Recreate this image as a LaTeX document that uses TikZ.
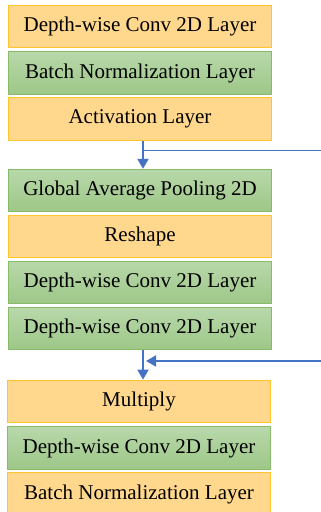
\documentclass[tikz,border=0pt]{standalone}
\usepackage{fontspec}
\setmainfont{Liberation Serif}
\usetikzlibrary{arrows.meta}
\definecolor{ofill}{HTML}{FFD88E}
\definecolor{oline}{HTML}{FFC531}
\definecolor{gtop}{HTML}{B8D8AA}
\definecolor{gbot}{HTML}{9DC787}
\definecolor{gline}{HTML}{86BB6A}
\definecolor{ablue}{HTML}{4472C4}
\tikzset{
  layer/.style={rectangle, minimum width=263pt, minimum height=42.5pt, inner sep=0pt,
    line width=0.9pt, font=\fontsize{21}{25}\selectfont, text=black},
  obox/.style={layer, draw=oline, fill=ofill},
  gbox/.style={layer, draw=gline, top color=gtop, bottom color=gbot},
  flow/.style={ablue, line width=2pt, -{Triangle[length=10pt, width=11pt]}},
  thinline/.style={ablue, line width=1pt},
}
\begin{document}
\begin{tikzpicture}[x=1pt, y=-1pt]
\useasboundingbox (0,0) rectangle (321,512);
\clip (0,0) rectangle (321,512);
\node[obox] (b1) at (140,26.25) {Depth-wise Conv 2D Layer};
\node[gbox] (b2) at (140,73) {Batch Normalization Layer};
\node[obox] (b3) at (140,118.85) {Activation Layer};
\node[gbox] (b4) at (140,190.5) {Global Average Pooling 2D};
\node[obox] (b5) at (140,236.35) {Reshape};
\node[gbox] (b6) at (140,282.5) {Depth-wise Conv 2D Layer};
\node[gbox] (b7) at (140,328.65) {Depth-wise Conv 2D Layer};
\node[obox] (b8) at (139,401.35) {Multiply};
\node[gbox] (b9) at (139,448) {Depth-wise Conv 2D Layer};
\node[obox] (b10) at (139,494) {Batch Normalization Layer};
\coordinate (s1) at (321,150.7);
\coordinate (s2) at (321,361);
\draw[flow] (b3.south -| 143,0) -- (b4.north -| 143,0);
\draw[thinline] (143,150.7) -- (s1);
\draw[flow] (b7.south -| 143,0) -- (b8.north -| 143,0);
\draw[flow] (s2) -- (146,361);
\end{tikzpicture}
\end{document}
